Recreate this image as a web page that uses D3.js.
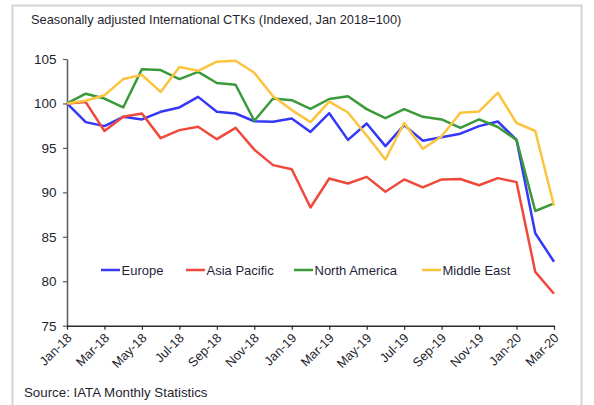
<!DOCTYPE html>
<html>
<head>
<meta charset="utf-8">
<script src="https://cdn.jsdelivr.net/npm/d3@7"></script>
<style>
  html, body { margin: 0; padding: 0; background: #fff; }
  svg { display: block; font-family: "Liberation Sans", Arial, sans-serif; }
</style>
</head>
<body>
<svg id="chart" width="594" height="405"></svg>
<script>
const months = ["Jan-18","Feb-18","Mar-18","Apr-18","May-18","Jun-18","Jul-18","Aug-18","Sep-18","Oct-18","Nov-18","Dec-18",
  "Jan-19","Feb-19","Mar-19","Apr-19","May-19","Jun-19","Jul-19","Aug-19","Sep-19","Oct-19","Nov-19","Dec-19",
  "Jan-20","Feb-20","Mar-20"];
const yTicks = [75, 80, 85, 90, 95, 100, 105];
const seriesNames = ["Europe", "Asia Pacific", "North America", "Middle East"];
const europe = [100, 97.9, 97.45, 98.5, 98.2, 99.06, 99.55, 100.74, 99.06, 98.87, 98.0, 97.93, 98.3, 96.8, 98.9, 95.9, 97.75, 95.2, 97.56, 95.8, 96.2, 96.6, 97.45, 97.97, 95.9, 85.4, 82.2];
const asiaPacific = [100, 100.15, 96.9, 98.5, 98.87, 96.1, 97.0, 97.37, 95.98, 97.26, 94.8, 93.06, 92.6, 88.3, 91.56, 91.0, 91.74, 90.06, 91.45, 90.55, 91.45, 91.5, 90.8, 91.6, 91.15, 81.05, 78.6];
const northAmerica = [100, 101.1, 100.55, 99.55, 103.86, 103.75, 102.74, 103.55, 102.3, 102.1, 98.05, 100.56, 100.37, 99.4, 100.5, 100.8, 99.36, 98.35, 99.36, 98.5, 98.2, 97.26, 98.2, 97.35, 95.9, 87.9, 88.75];
const middleEast = [100, 100.3, 100.93, 102.74, 103.2, 101.3, 104.1, 103.67, 104.7, 104.8, 103.45, 100.8, 99.25, 97.9, 100.2, 98.98, 96.4, 93.7, 97.8, 94.9, 96.3, 98.95, 99.1, 101.2, 97.8, 96.9, 88.5];
const colors = ["#3538f5", "#f0493c", "#3a9a3a", "#fcc43e"];

const series = [europe, asiaPacific, northAmerica, middleEast].map((v, i) => ({name: seriesNames[i], values: v, color: colors[i]}));

const svg = d3.select("#chart");

// frame
svg.append("rect").attr("x", 12.5).attr("y", 5.5).attr("width", 569).attr("height", 410)
  .attr("fill", "none").attr("stroke", "#d4d4d4").attr("stroke-width", 2);

// title
svg.append("text").attr("x", 31).attr("y", 24).attr("font-size", 12.8).attr("fill", "#1f1f2e")
  .text("Seasonally adjusted International CTKs (Indexed, Jan 2018=100)");

const x = d3.scaleLinear().domain([0, months.length - 1]).range([67, 554]);
const y = d3.scaleLinear().domain([75, 105]).range([325.7, 59]);

// y axis
const yAxis = svg.append("g").attr("transform", "translate(67,0)")
  .call(d3.axisLeft(y).tickValues(yTicks).tickSize(4).tickSizeOuter(0).tickPadding(6.5));
yAxis.select(".domain").attr("stroke", "#5a5a5a").attr("stroke-width", 1.5);
yAxis.selectAll(".tick line").attr("stroke", "#5a5a5a").attr("stroke-width", 1.2);
yAxis.selectAll(".tick text").attr("font-size", 13.5).attr("fill", "#1f1f2e").attr("font-family", "Liberation Sans, Arial, sans-serif");

// x axis
const xTickIdx = months.map((m, i) => i).filter(i => i % 2 === 0);
const xAxis = svg.append("g").attr("transform", `translate(0,${y(75)})`)
  .call(d3.axisBottom(x).tickValues(xTickIdx).tickFormat(i => months[i]).tickSize(4).tickSizeOuter(0));
xAxis.select(".domain").attr("stroke", "#2a2a2a").attr("stroke-width", 1.5);
xAxis.selectAll(".tick line").attr("stroke", "#2a2a2a").attr("stroke-width", 1.2);
xAxis.selectAll(".tick text")
  .attr("font-size", 12.8).attr("fill", "#1f1f2e").attr("font-family", "Liberation Sans, Arial, sans-serif")
  .attr("text-anchor", "end").attr("dy", 0).attr("y", 0)
  .attr("transform", "translate(5,13) rotate(-45)");

// lines
const line = d3.line().x((d, i) => x(i)).y(d => y(d));
svg.append("g").selectAll("path").data(series).join("path")
  .attr("d", d => line(d.values))
  .attr("fill", "none").attr("stroke", d => d.color).attr("stroke-width", 2.5)
  .attr("stroke-linejoin", "round");

// legend
const legendX = [101, 186, 294, 422];
const lg = svg.append("g").selectAll("g").data(series).join("g")
  .attr("transform", (d, i) => `translate(${legendX[i]},270)`);
lg.append("line").attr("x1", 0).attr("x2", 19).attr("y1", 0).attr("y2", 0)
  .attr("stroke", d => d.color).attr("stroke-width", 2.5);
lg.append("text").attr("x", 20.5).attr("y", 4.5).attr("font-size", 13).attr("fill", "#1f1f3a")
  .text(d => d.name);

// source
svg.append("text").attr("x", 24).attr("y", 397).attr("font-size", 13.3).attr("fill", "#1f1f2e")
  .text("Source: IATA Monthly Statistics");
</script>
</body>
</html>
